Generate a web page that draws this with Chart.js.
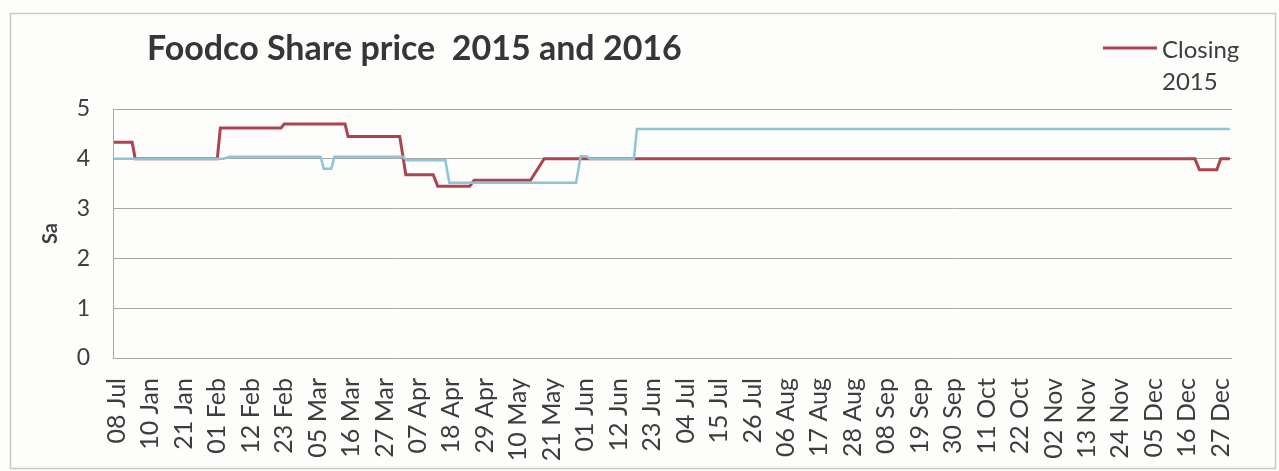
<!DOCTYPE html>
<html>
<head>
<meta charset="utf-8">
<title>Foodco Share price 2015 and 2016</title>
<script src="https://cdn.jsdelivr.net/npm/chart.js@4.4.1/dist/chart.umd.min.js"></script>
<style>
  html, body { margin: 0; padding: 0; background: #fdfdfb; }
  #wrap { width: 1279px; height: 471px; }
</style>
</head>
<body>
<div id="wrap"><canvas id="chart" width="1279" height="471"></canvas></div>
<script>
// Tick labels on the date axis, one every 11 days
const tickLabels = ['08 Jul', '10 Jan', '21 Jan', '01 Feb', '12 Feb', '23 Feb', '05 Mar', '16 Mar',
  '27 Mar', '07 Apr', '18 Apr', '29 Apr', '10 May', '21 May', '01 Jun', '12 Jun', '23 Jun',
  '04 Jul', '15 Jul', '26 Jul', '06 Aug', '17 Aug', '28 Aug', '08 Sep', '19 Sep', '30 Sep',
  '11 Oct', '22 Oct', '02 Nov', '13 Nov', '24 Nov', '05 Dec', '16 Dec', '27 Dec'];
const tickStep = 11;

// Closing 2015: flat stretches (day from, day to, price)
const redFrom = [-1, 6, 34, 55, 76, 95, 105.5, 117.5, 140.5, 356, 363];
const redTo = [5, 33, 54, 75, 93, 104, 116, 136, 354.5, 361.7, 366];
const redVal = [4.33, 4.0, 4.62, 4.70, 4.45, 3.68, 3.45, 3.57, 4.0, 3.78, 4.0];

// second (unlabelled) series
const blueFrom = [-1, 37, 68, 71.5, 95.3, 109.3, 152.5, 155.5, 171];
const blueTo = [35, 67, 70.5, 94, 108, 151, 154.5, 170, 366];
const blueVal = [4.0, 4.04, 3.8, 4.04, 3.97, 3.52, 4.05, 4.0, 4.6];

const yTicks = [0, 1, 2, 3, 4, 5];

function toPoints(from, to, vals) {
  const pts = [];
  from.forEach((f, i) => {
    pts.push({ x: f, y: vals[i] });
    pts.push({ x: to[i], y: vals[i] });
  });
  return pts;
}

const textColor = '#3d3d3d';
const gridColor = '#a8a8a8';

// frame, title and legend drawn around the plot
const framePlugin = {
  id: 'frame',
  beforeDraw(chart) {
    const ctx = chart.ctx;
    ctx.save();
    ctx.fillStyle = '#fdfdfb';
    ctx.fillRect(0, 0, chart.width, chart.height);
    ctx.strokeStyle = '#c9c9c9';
    ctx.lineWidth = 1.5;
    ctx.strokeRect(10.5, 13.5, 1265, 455);
    ctx.restore();
  },
  afterDraw(chart) {
    const ctx = chart.ctx;
    ctx.save();
    ctx.fillStyle = '#363636';
    ctx.font = 'bold 34px Lato';
    ctx.textBaseline = 'alphabetic';
    ctx.fillText('Foodco Share price  2015 and 2016', 147, 60);

    const ds = chart.data.datasets.find(d => d.label);
    ctx.strokeStyle = ds.borderColor;
    ctx.lineWidth = 3;
    ctx.beginPath();
    ctx.moveTo(1103, 48);
    ctx.lineTo(1157, 48);
    ctx.stroke();
    ctx.fillStyle = textColor;
    ctx.font = '24px Lato';
    ds.label.split(' ').forEach((w, i) => ctx.fillText(w, 1162, 58 + i * 32));
    ctx.restore();
  }
};

function draw() {
  new Chart(document.getElementById('chart'), {
    type: 'line',
    data: {
      datasets: [
        {
          label: 'Closing 2015',
          data: toPoints(redFrom, redTo, redVal),
          borderColor: '#ad434e',
          borderWidth: 3,
          pointRadius: 0,
          order: 2
        },
        {
          label: '',
          data: toPoints(blueFrom, blueTo, blueVal),
          borderColor: '#8fc4d8',
          borderWidth: 2.5,
          pointRadius: 0,
          order: 1
        }
      ]
    },
    options: {
      responsive: false,
      devicePixelRatio: 1,
      animation: false,
      layout: { padding: { top: 109, right: 47, left: 0, bottom: 0 } },
      plugins: {
        legend: { display: false },
        title: { display: false },
        tooltip: { enabled: false }
      },
      scales: {
        x: {
          type: 'linear',
          min: -1.3,
          max: 366.7,
          grid: { display: false },
          border: { display: false },
          afterFit(scale) { scale.height = 113; },
          afterBuildTicks(scale) {
            scale.ticks = tickLabels.map((_, i) => ({ value: i * tickStep }));
          },
          ticks: {
            autoSkip: false,
            minRotation: 90,
            maxRotation: 90,
            padding: 12,
            color: textColor,
            font: { family: 'Lato', size: 25 },
            callback: (v) => tickLabels[Math.round(v / tickStep)]
          }
        },
        y: {
          min: 0,
          max: 5,
          afterFit(scale) { scale.width = 113; },
          afterBuildTicks(scale) {
            scale.ticks = yTicks.map(v => ({ value: v }));
          },
          grid: { color: gridColor, lineWidth: 1, drawTicks: false },
          border: { display: true, color: gridColor, width: 1 },
          ticks: {
            padding: 23,
            color: textColor,
            font: { family: 'Lato', size: 23 }
          },
          title: {
            display: true,
            text: 'Sa',
            color: textColor,
            font: { family: 'Lato', size: 20, weight: 'bold' },
            padding: { top: 39, bottom: 0 }
          }
        }
      }
    },
    plugins: [framePlugin]
  });
}

Promise.all([
  document.fonts.load('24px Lato'),
  document.fonts.load('bold 34px Lato')
]).then(draw, draw);
</script>
</body>
</html>
